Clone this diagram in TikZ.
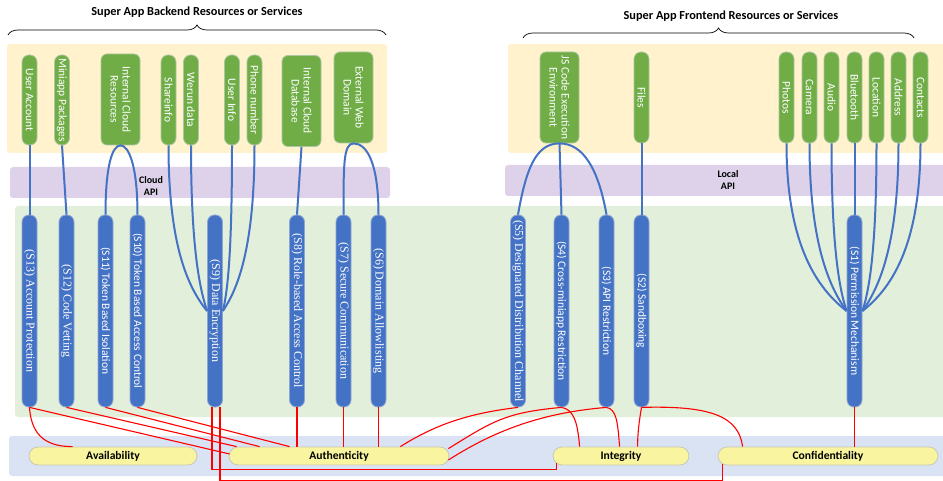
\documentclass[tikz,border=0pt]{standalone}
\usepackage{fontspec}
\setmainfont{Carlito}
\newfontfamily\serifface{Liberation Serif}
\usetikzlibrary{calc,decorations.pathreplacing,positioning}
\definecolor{bandyellow}{HTML}{FFF2CC}
\definecolor{bandpurple}{HTML}{DDD2E9}
\definecolor{bandgreen}{HTML}{E2EFDA}
\definecolor{bandblue}{HTML}{DAE3F3}
\definecolor{resgreen}{HTML}{70AD47}
\definecolor{resedge}{HTML}{A9C7A0}
\definecolor{secblue}{HTML}{4472C4}
\definecolor{secedge}{HTML}{8EA6D6}
\definecolor{propyellow}{HTML}{F8F49F}
\definecolor{propedge}{HTML}{C9C9B5}
\definecolor{linkblue}{HTML}{4472C4}
\begin{document}
\begin{tikzpicture}[x=1pt,y=-1pt,font=\fontsize{11}{13}\selectfont,
		res/.style={rotate=-90,fill=resgreen,draw=resedge,line width=0.8pt,rounded corners=7pt,text=white,minimum width=90pt,minimum height=15pt,inner sep=1pt,align=center,font=\fontsize{11.5}{12}\selectfont},
		reswide/.style={res,minimum height=39pt,minimum width=91pt,rounded corners=6pt},
		sec/.style={rotate=-90,fill=secblue,draw=secedge,line width=0.8pt,rounded corners=7pt,text=white,minimum width=192pt,minimum height=15pt,inner sep=1pt,font=\fontsize{11.5}{12}\selectfont},
		secserif/.style={sec,font=\serifface\fontsize{12}{12}\selectfont},
		prop/.style={fill=propyellow,draw=propedge,line width=0.8pt,rounded corners=9pt,minimum height=18pt,inner sep=0pt,font=\bfseries\fontsize{11.6}{12}\selectfont},
		bline/.style={draw=linkblue,line width=2pt},
		rline/.style={draw=red,line width=1.1pt},
		titletext/.style={font=\bfseries\fontsize{12.3}{14}\selectfont},
		bandtext/.style={font=\bfseries\fontsize{10}{12}\selectfont,align=center}]
	\useasboundingbox (0,0) rectangle (943,481);
	\fill[bandyellow,rounded corners=3pt] (7,44) rectangle (387,153) (508,44) rectangle (952,153);
	\fill[bandpurple,rounded corners=3pt] (10,167) rectangle (390,198) (505,165) rectangle (952,196);
	\fill[bandgreen,rounded corners=3pt] (15,206) rectangle (952,417);
	\fill[bandblue,rounded corners=3pt] (9,436) rectangle (952,476);
	\node[bandtext] (cloudapi) at (151,186) {Cloud\\API};
	\node[bandtext] (localapi) at (728,180) {Local\\API};
	\node[titletext] (backtitle) at (197,12) {Super App Backend Resources or Services};
	\node[titletext] (fronttitle) at (731,16) {Super App Frontend Resources or Services};
	\draw[line width=0.7pt,decorate,decoration={brace,amplitude=10pt}] (8,35) -- (386,35);
	\draw[line width=0.7pt,decorate,decoration={brace,amplitude=10pt}] (523,38) -- (914,38);
	\node[res] (ua) at (29.5,100) {User Account};
	\node[res] (mp) at (62,100) {Miniapp Packages};
	\node[reswide] (icr) at (120.5,99.5) {Internal Cloud\\Resources};
	\node[res] (share) at (168.5,100) {Shareinfo};
	\node[res] (werun) at (191,100) {Werun data};
	\node[res] (uinfo) at (232,100) {User Info};
	\node[res] (phone) at (254.5,100) {Phone number};
	\node[reswide] (icdb) at (301.5,101) {Internal Cloud\\Database};
	\node[reswide] (ewd) at (353.5,97.5) {External Web\\Domain};
	\node[reswide] (js) at (559.5,97.5) {JS Code Execution\\Environment};
	\node[res,minimum width=91pt] (files) at (641.5,97.5) {Files};
	\foreach \n/\t/\x in {photos/Photos/786.5,camera/Camera/809.5,audio/Audio/831.5,bt/Bluetooth/854.5,loc/Location/876.5,addr/Address/898.5,contacts/Contacts/920.5}
		\node[res,minimum width=91pt] (\n) at (\x,97.5) {\t};
	\node[secserif] (s13) at (29.5,311) {(S13) Account Protection};
	\node[secserif] (s12) at (66.5,311) {(S12) Code Vetting};
	\node[sec] (s11) at (105.5,311) {(S11) Token Based Isolation};
	\node[sec] (s10) at (137.5,311) {(S10) Token Based Access Control};
	\node[secserif] (s9) at (215,311) {(S9) Data Encryption};
	\node[secserif] (s8) at (297,311) {(S8) Role-based Access Control};
	\node[secserif] (s7) at (343.5,311) {(S7) Secure Communication};
	\node[secserif] (s6) at (378.5,311) {(S6) Domain Allowlisting};
	\node[secserif] (s5) at (518,311) {(S5) Designated Distribution Channel};
	\node[sec] (s4) at (561.5,311) {(S4) Cross-miniapp Restriction};
	\node[sec] (s3) at (606.5,311) {(S3) API Restriction};
	\node[sec] (s2) at (641.5,311) {(S2) Sandboxing};
	\node[sec] (s1) at (854.5,311) {(S1) Permission Mechanism};
	\node[prop,minimum width=168pt] (avail) at (113,456) {Availability};
	\node[prop,minimum width=220pt] (auth) at (339,456) {Authenticity};
	\node[prop,minimum width=136pt] (integ) at (621,456) {Integrity};
	\node[prop,minimum width=220pt] (conf) at (828,456) {Confidentiality};
	\draw[bline] (ua.east) -- (s13.west);
	\draw[bline] (mp.east) -- (s12.west);
	\draw[bline] (s11.west) .. controls +(0,-50) and +(-8,0) .. (icr.east) .. controls +(8,0) and +(0,-50) .. (s10.west);
	\foreach \r/\d in {share/17,werun/7}
		\draw[bline] (\r.east) .. controls +(0,105) and +(-\d,-21) .. (s9.south);
	\foreach \r/\d in {uinfo/5,phone/14}
		\draw[bline] (\r.east) .. controls +(0,105) and +(\d,-21) .. (s9.north);
	\draw[bline] (icdb.east) -- (s8.west);
	\draw[bline] (s7.west) .. controls +(0,-50) and +(-10,0) .. (ewd.east) .. controls +(14,0) and +(0,-50) .. (s6.west);
	\draw[bline] (s5.west) .. controls +(8,-45) and +(-24,0) .. (js.east) .. controls +(24,0) and +(-8,-45) .. (s3.west);
	\draw[bline] (js.east) -- (s4.west);
	\draw[bline] (files.east) -- (s2.west);
	\foreach \r/\d in {photos/27,camera/15,audio/7}
		\draw[bline] (\r.east) .. controls +(0,105) and +(-\d,-21) .. (s1.south);
	\draw[bline] (bt.east) -- (s1.west);
	\foreach \r/\d in {loc/7,addr/15,contacts/27}
		\draw[bline] (\r.east) .. controls +(0,105) and +(\d,-21) .. (s1.north);
	\draw[rline] (s13.east) .. controls +(2,32) and +(-22,0) .. ($(avail.north west)+(44,0)$);
	\draw[rline] (s13.east) -- ($(auth.west)+(1,-2)$);
	\draw[rline] (s12.east) -- ($(auth.north west)+(8,0)$);
	\draw[rline] (s11.east) -- ($(auth.north west)+(31,0)$);
	\draw[rline] (s10.east) -- ($(auth.north west)+(61,0)$);
	\draw[rline] ($(s9.east)+(-3,0)$) |- ($(integ.south west)+(4,4)$) -- ($(integ.south west)+(4,-2)$);
	\draw[rline] ($(s9.east)+(5,0)$) |- ($(conf.south west)+(5,15)$) -- ($(conf.south west)+(5,-1)$);
	\foreach \s in {s8,s7,s6}
		\draw[rline] (\s.east) -- (\s.east |- auth.north);
	\draw[rline] (s5.east) .. controls +(-50,6) and +(35,-22) .. ($(auth.north east)+(-49,0)$);
	\draw[rline] (s4.east) .. controls +(-55,5) and +(45,-28) .. ($(auth.north east)+(-1,2)$);
	\draw[rline] (s3.east) .. controls +(-60,5) and +(50,-32) .. ($(auth.east)+(-1,4)$);
	\draw[rline] (s4.east) .. controls +(12,2) and +(-2,-25) .. ($(integ.north west)+(27,0)$);
	\draw[rline] (s3.east) .. controls +(10,2) and +(-2,-25) .. ($(integ.north west)+(67,0)$);
	\draw[rline] (s2.east) .. controls +(-2,12) and +(0,-15) .. ($(integ.north west)+(85,0)$);
	\draw[rline] (s2.east) .. controls +(70,-2) and +(-4,-30) .. ($(conf.north west)+(25,0)$);
	\draw[rline] (s1.east) -- (s1.east |- conf.north);
\end{tikzpicture}
\end{document}
